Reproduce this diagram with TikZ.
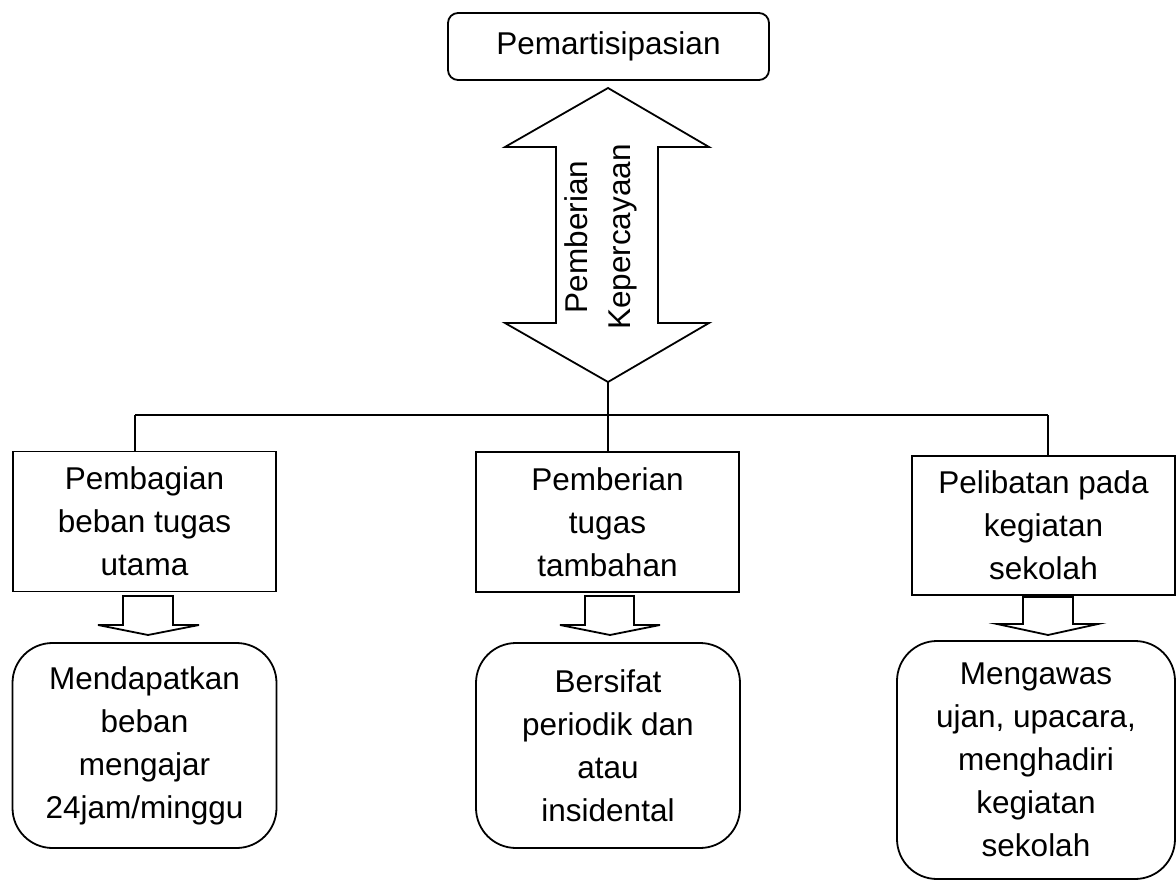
\documentclass[tikz,border=0pt]{standalone}
\usepackage{fontspec}
\setmainfont{Liberation Sans}
\usetikzlibrary{positioning}

\begin{document}
\begin{tikzpicture} [x=1pt, y=-1pt, line width=1.8pt,
        every node/.style={align=center, font=\fontsize{31.5}{43}\selectfont, inner sep=0pt},
        kotak/.style={draw, minimum width=263pt, minimum height=140pt},
        hasil/.style={draw, rounded corners=40pt, minimum width=264pt, minimum height=205pt},
        panah/.style={draw, line join=miter}]
            \useasboundingbox (0,0) rectangle (1176,880);

            \node (par) [draw, rounded corners=10pt, minimum width=321pt, minimum height=67pt] at (608.5, 46.5) {Pemartisipasian};

            % panah dua arah
            \draw [panah] (608,88) -- (709,147) -- (658,147) -- (658,323) -- (709,323) -- (608,382)
                -- (505,323) -- (556,323) -- (556,147) -- (505,147) -- cycle;
            \node (per) [rotate=90] at (601, 237) {Pemberian\\Kepercayaan};
            \coordinate (tip) at (608, 382);

            \node (b1) [kotak] at (144.5, 521.5) {Pembagian\\beban tugas\\utama};
            \node (b2) [kotak] at (607.5, 522)   {Pemberian\\tugas\\tambahan};
            \node (b3) [kotak, minimum height=139pt] at (1043.5, 525.5) {Pelibatan pada\\kegiatan\\sekolah};

            \node (h1) [hasil] at (144.5, 745.5) {Mendapatkan\\beban\\mengajar\\24jam/minggu};
            \node (h2) [hasil] at (608, 745.5)   {Bersifat\\periodik dan\\atau\\insidental};
            \node (h3) [hasil, minimum width=278pt, minimum height=238pt] at (1036, 760) {Mengawas\\ujan, upacara,\\menghadiri\\kegiatan\\sekolah};

            % garis penghubung
            \coordinate (c1) at (135, 415);
            \coordinate (c2) at (608, 415);
            \coordinate (c3) at (1048, 415);
            \draw (tip) -- (c2);
            \draw (c1) -- (c3);
            \draw (c1) -- (c1 |- b1.north);
            \draw (c2) -- (c2 |- b2.north);
            \draw (c3) -- (c3 |- b3.north);

            % panah kecil
            \draw [panah] (123,596) -- (173,596) -- (173,625) -- (199,625) -- (148,635) -- (98,625) -- (123,625) -- cycle;
            \draw [panah] (585,596) -- (634,596) -- (634,625) -- (660,625) -- (610,635) -- (560,625) -- (585,625) -- cycle;
            \draw [panah] (1023,597) -- (1073,597) -- (1073,624) -- (1098,624) -- (1048,635) -- (997,624) -- (1023,624) -- cycle;
        \end{tikzpicture}
\end{document}
